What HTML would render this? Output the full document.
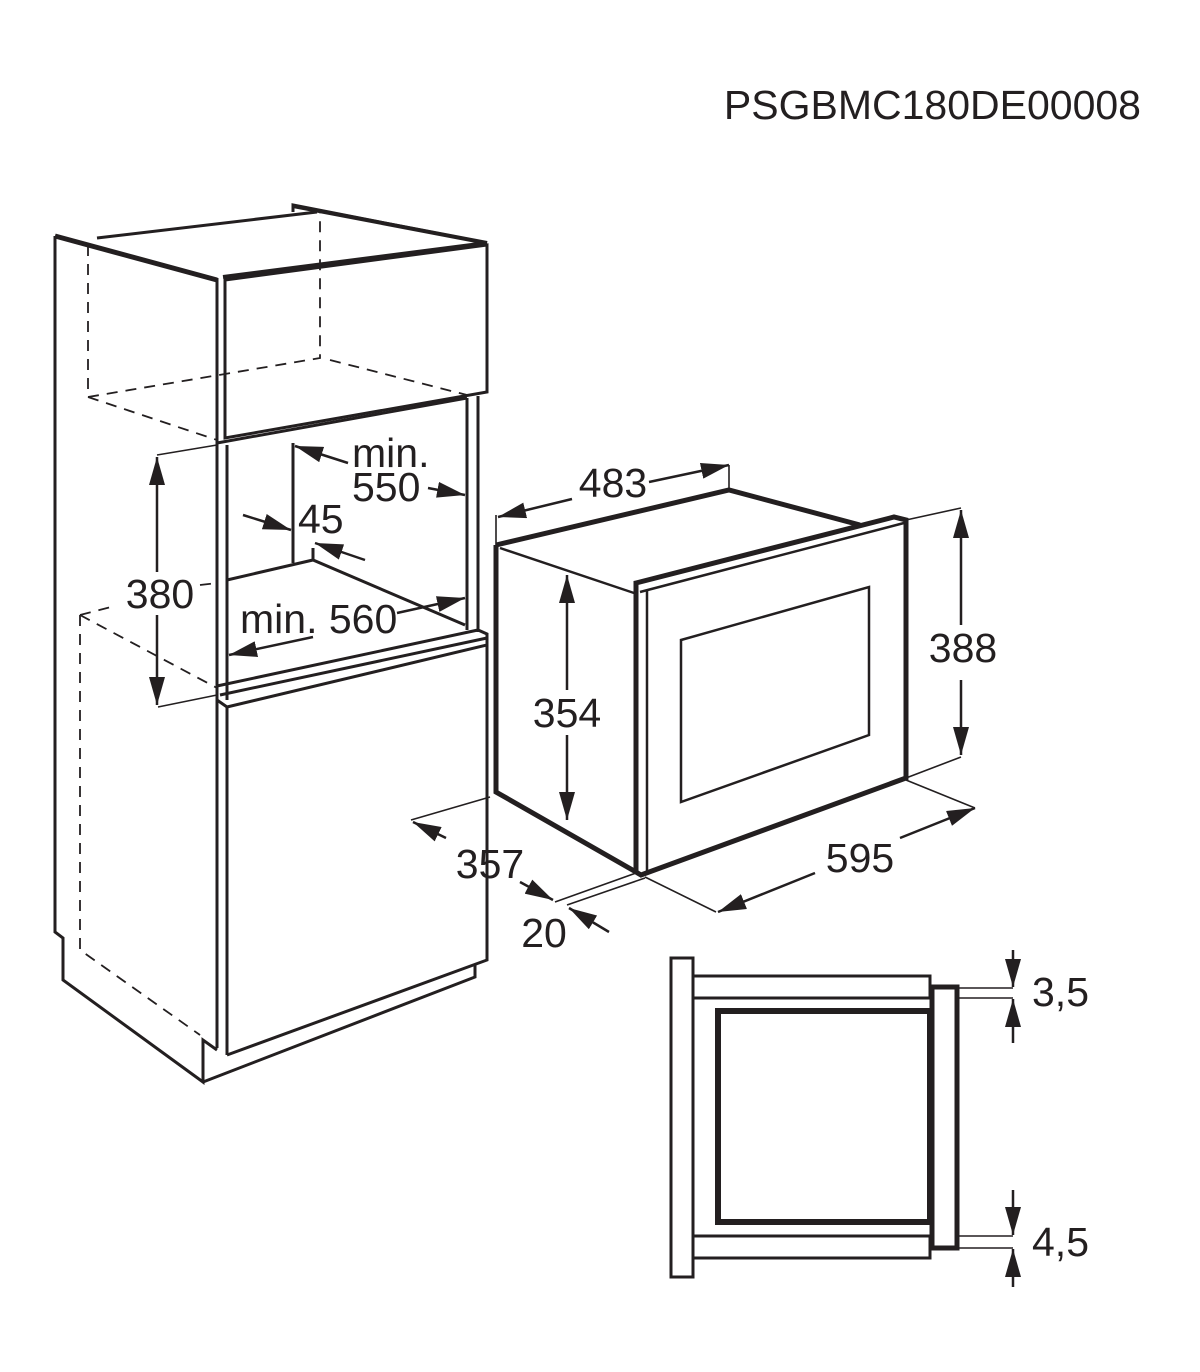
<!DOCTYPE html>
<html><head><meta charset="utf-8"><style>
html,body{margin:0;padding:0;background:#fff;}
svg{display:block;}
text{font-family:"Liberation Sans",Arial,sans-serif;fill:#231f20;}
</style></head><body>
<svg width="1200" height="1372" viewBox="0 0 1200 1372" xmlns="http://www.w3.org/2000/svg">
<defs>
<marker id="a" viewBox="0 0 28 16" refX="28" refY="8" markerWidth="28" markerHeight="16" markerUnits="userSpaceOnUse" orient="auto-start-reverse">
<path d="M0,0 L28,8 L0,16 Z" fill="#231f20"/></marker>
</defs>
<text x="1141" y="119" font-size="41" text-anchor="end">PSGBMC180DE00008</text>

<g fill="none" stroke="#231f20" stroke-linejoin="miter">
<g stroke-width="1.8" stroke-dasharray="11,8">
<path d="M88,245 V397 L320,358 V212"/>
<path d="M88,397 L217,440"/>
<path d="M330,360 L467,395"/>
<path d="M80,615 L115,606"/>
<path d="M80,615 L217,688"/>
<path d="M80,615 V950 L200,1035"/>
<path d="M200,585 L217,583"/>
</g>
<g stroke-width="3">
<path d="M55,236 V932 L63,938 V980 L203,1082 V1040 L217,1050"/>
<path d="M203,1082 L475,977 V965"/>
<path d="M227,1055 L487,960 V645"/>
<path d="M217,278 V1048"/>
<path d="M227,707 V1055"/>
<path d="M97,238 L317,212"/>
<path d="M293,212 V205 L487,243"/>
<path d="M225,280 L487,245 V392 L225,438 Z"/>
<path d="M217,443 L467,398"/>
<path d="M467,398 V630 M478,396 V632"/>
<path d="M227,445 V700"/>
<path d="M293,443 V563"/>
<path d="M227,580 L313,560 L465,625"/>
<path d="M313,560 V548"/>
<path d="M217,686 L478,630 L487,634 V645 L227,707 L217,700"/>
<path d="M220,695 L487,638"/>
</g>
<path d="M55,236 L217,280" stroke-width="5"/>
<path d="M223,277 L487,243" stroke-width="4"/>
<path d="M293,206 L487,243" stroke-width="4"/>
<g stroke-width="1.6">
<path d="M157,455 L217,445"/>
<path d="M158,707 L217,695"/>
</g>
<g stroke-width="2.5">
<path d="M157,572 V457" marker-end="url(#a)"/>
<path d="M157,615 V705" marker-end="url(#a)"/>
<path d="M348,463 L295,446" marker-end="url(#a)"/>
<path d="M428,488 L465,495" marker-end="url(#a)"/>
<path d="M243,515 L291,530" marker-end="url(#a)"/>
<path d="M365,560 L315,543" marker-end="url(#a)"/>
<path d="M397,613 L465,598" marker-end="url(#a)"/>
<path d="M313,637 L229,655" marker-end="url(#a)"/>
</g>
<g stroke-width="5">
<path d="M496,545 L729,490 L860,525"/>
<path d="M496,545 V792 L636,872"/>
<path d="M636,583 L894,517 L906,520 V778 L641,875 L636,872 Z"/>
</g>
<g stroke-width="2.5">
<path d="M500,548 L634,593"/>
<path d="M647,590 V872"/>
<path d="M640,592 L904,523"/>
<path d="M681,640 L869,587 V735 L681,802 Z"/>
</g>
<g stroke-width="1.6">
<path d="M496,515 V545 M729,465 V490"/>
<path d="M906,520 L961,508 M906,778 L961,757"/>
<path d="M490,797 L411,820 M636,873 L555,902"/>
<path d="M645,878 L567,905"/>
<path d="M645,877 L716,912 M906,780 L975,808"/>
</g>
<g stroke-width="2.5">
<path d="M572,499 L498,517" marker-end="url(#a)"/>
<path d="M649,482 L729,465" marker-end="url(#a)"/>
<path d="M961,625 V510" marker-end="url(#a)"/>
<path d="M961,680 V755" marker-end="url(#a)"/>
<path d="M567,690 V575" marker-end="url(#a)"/>
<path d="M567,735 V820" marker-end="url(#a)"/>
<path d="M446,838 L413,822" marker-end="url(#a)"/>
<path d="M520,882 L553,900" marker-end="url(#a)"/>
<path d="M609,932 L569,908" marker-end="url(#a)"/>
<path d="M815,873 L718,912" marker-end="url(#a)"/>
<path d="M900,838 L975,808" marker-end="url(#a)"/>
</g>
<g stroke-width="3">
<rect x="671" y="958" width="22" height="319"/>
<rect x="693" y="976" width="237" height="22"/>
<rect x="693" y="1236" width="237" height="22"/>
</g>
<rect x="718" y="1011" width="212" height="211" stroke-width="6"/>
<rect x="932" y="987" width="25" height="261" stroke-width="5"/>
<g stroke-width="1.6">
<path d="M957,988 H1013 M957,998 H1013 M957,1236 H1013 M957,1248 H1013"/>
</g>
<g stroke-width="2.5">
<path d="M1013,950 V987" marker-end="url(#a)"/>
<path d="M1013,1043 V999" marker-end="url(#a)"/>
<path d="M1013,1190 V1235" marker-end="url(#a)"/>
<path d="M1013,1287 V1249" marker-end="url(#a)"/>
</g>
</g>
<g font-size="41">
<text x="160" y="608" text-anchor="middle">380</text>
<text x="352" y="467">min.</text>
<text x="352" y="501">550</text>
<text x="298" y="533">45</text>
<text x="240" y="633">min. 560</text>
<text x="613" y="497" text-anchor="middle">483</text>
<text x="963" y="662" text-anchor="middle">388</text>
<text x="567" y="727" text-anchor="middle">354</text>
<text x="490" y="878" text-anchor="middle">357</text>
<text x="544" y="947" text-anchor="middle">20</text>
<text x="860" y="872" text-anchor="middle">595</text>
<text x="1032" y="1006">3,5</text>
<text x="1032" y="1256">4,5</text>
</g>
</svg>
</body></html>
